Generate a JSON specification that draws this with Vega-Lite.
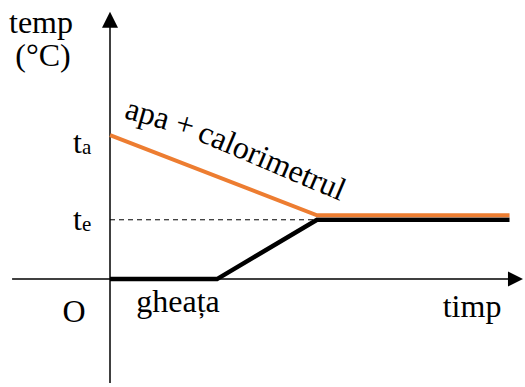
{
  "$schema": "https://vega.github.io/schema/vega-lite/v6.json",
  "width": 525,
  "height": 387,
  "autosize": {"type": "fit", "contains": "padding"},
  "padding": 0,
  "background": "white",
  "config": {
    "view": {"stroke": null},
    "text": {"font": "Liberation Serif", "fontSize": 32, "color": "black"}
  },
  "datasets": {
    "axes": [
      {"axis": "time", "time": -4.73, "temp": 0},
      {"axis": "time", "time": 19.6, "temp": 0},
      {"axis": "temp", "time": 0, "temp": -29.8},
      {"axis": "temp", "time": 0, "temp": 76.0}
    ],
    "ice": [
      {"time": 0, "temp": 0},
      {"time": 5.17, "temp": 0},
      {"time": 10, "temp": 17},
      {"time": 19.3, "temp": 17}
    ],
    "water": [
      {"time": 0, "temp": 40},
      {"time": 10, "temp": 17},
      {"time": 19.3, "temp": 17}
    ],
    "equilibrium": [
      {"time": 0, "temp": 17},
      {"time": 10, "temp": 17}
    ],
    "levels": [
      {"time": -1.353, "temp": 39.0, "sub": "a"},
      {"time": -1.353, "temp": 17, "sub": "e"}
    ]
  },
  "encoding": {
    "x": {"field": "time", "type": "quantitative", "scale": {"domain": [-5.314, 20.048], "nice": false, "zero": false}, "axis": null},
    "y": {"field": "temp", "type": "quantitative", "scale": {"domain": [-29.787, 80.0], "nice": false, "zero": false}, "axis": null}
  },
  "layer": [
    {
      "data": {"name": "equilibrium"},
      "mark": {"type": "line", "color": "black", "strokeWidth": 1, "strokeDash": [5, 4]}
    },
    {
      "data": {"name": "axes"},
      "mark": {"type": "line", "color": "black", "strokeWidth": 1.5},
      "encoding": {"detail": {"field": "axis"}}
    },
    {
      "data": {"name": "ice"},
      "mark": {"type": "line", "color": "black", "strokeWidth": 4.5, "strokeJoin": "miter"}
    },
    {
      "data": {"name": "water"},
      "mark": {"type": "line", "color": "#ED7D31", "strokeWidth": 4, "yOffset": -4.5, "strokeJoin": "miter"}
    },
    {
      "data": {"values": [{"time": 19.95, "temp": 0}]},
      "mark": {"type": "point", "shape": "M0,0L-2,-1L-2,1Z", "size": 225, "filled": true, "color": "black", "opacity": 1, "strokeWidth": 0}
    },
    {
      "data": {"values": [{"time": 0, "temp": 76.6}]},
      "mark": {"type": "point", "shape": "M0,0L-1,2L1,2Z", "size": 256, "filled": true, "color": "black", "opacity": 1, "strokeWidth": 0}
    },
    {
      "data": {"name": "levels"},
      "mark": {"type": "text", "align": "right", "baseline": "middle"},
      "encoding": {"text": {"value": "t"}}
    },
    {
      "data": {"name": "levels"},
      "mark": {"type": "text", "align": "left", "baseline": "middle", "fontSize": 21, "dy": 5},
      "encoding": {"text": {"field": "sub"}}
    },
    {
      "data": {"values": [
        {"label": "temp", "time": -3.333, "temp": 70.64},
        {"label": "(°C)", "time": -3.237, "temp": 61.0},
        {"label": "O", "time": -1.739, "temp": -12.2},
        {"label": "gheața", "time": 3.285, "temp": -9.36},
        {"label": "timp", "time": 17.49, "temp": -10.78}
      ]},
      "mark": {"type": "text", "align": "center", "baseline": "alphabetic"},
      "encoding": {"text": {"field": "label"}}
    },
    {
      "data": {"values": [{"label": "apa +", "time": 2.415, "temp": 46.24}]},
      "mark": {"type": "text", "align": "center", "baseline": "middle", "angle": 16},
      "encoding": {"text": {"field": "label"}}
    },
    {
      "data": {"values": [{"label": "calorimetrul", "time": 7.826, "temp": 33.76}]},
      "mark": {"type": "text", "align": "center", "baseline": "middle", "angle": 23},
      "encoding": {"text": {"field": "label"}}
    }
  ]
}
